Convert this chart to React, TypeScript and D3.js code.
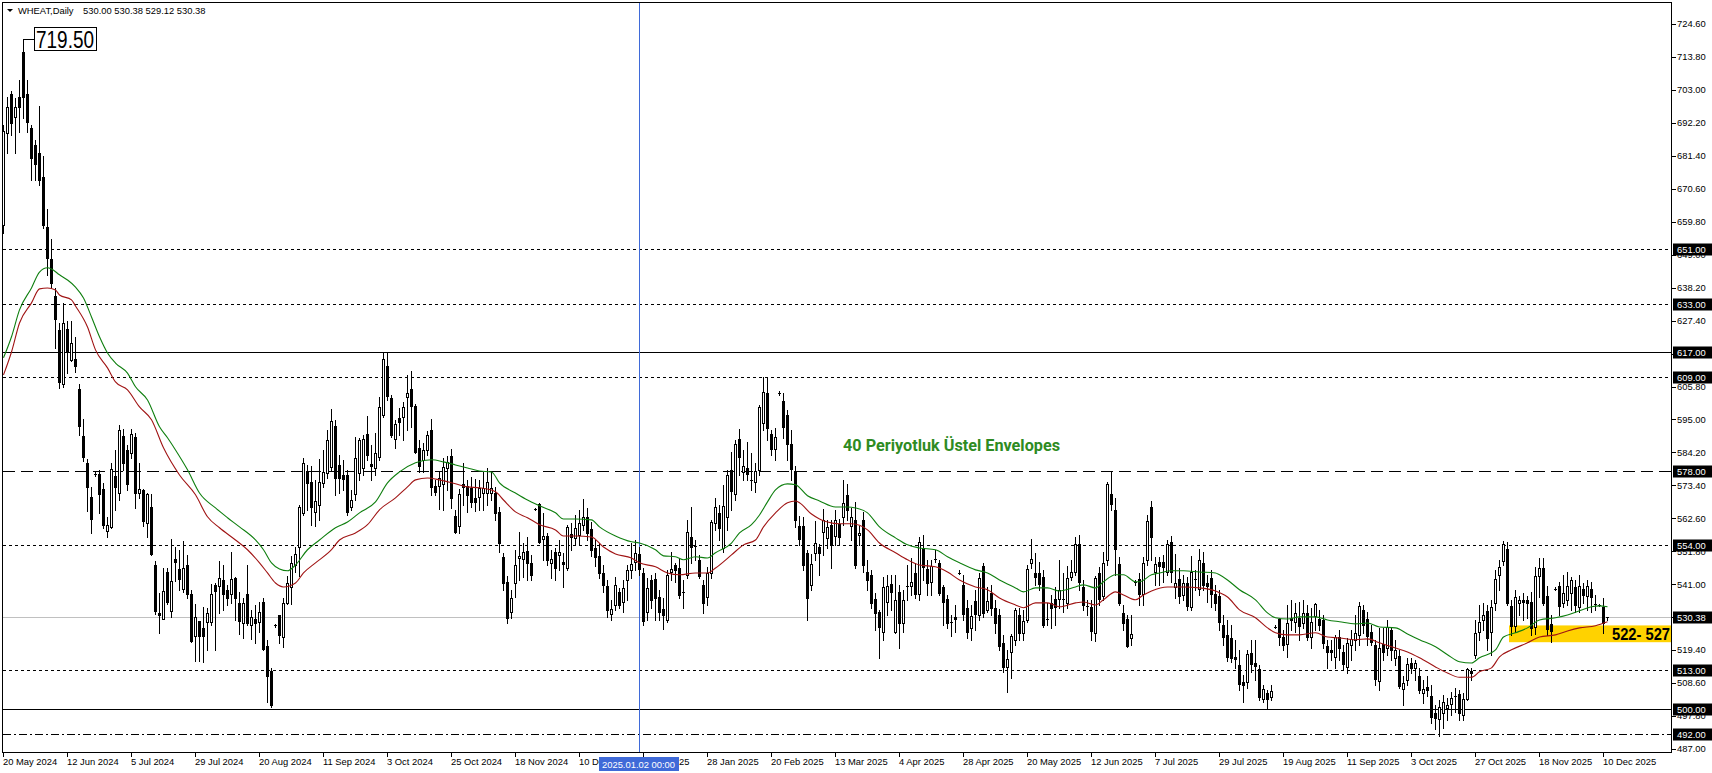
import React, { useEffect } from "react";
import * as d3 from "d3";

const opens = [
658.8,688.9,701.7,694.2,700.7,715.5,701.7,690.5,685.0,682.4,
674.5,658.1,647.6,635.5,624.3,606.7,624.7,614.5,614.9,605.0,
589.6,580.8,569.6,577.2,577.2,572.2,558.5,559.8,576.5,570.9,
589.6,585.0,584.0,589.3,570.9,571.9,561.1,566.3,547.3,531.6,
529.6,545.0,532.3,549.3,546.0,539.5,547.3,537.8,524.1,529.0,
526.7,528.7,528.7,540.8,540.5,542.4,539.2,537.8,543.1,534.9,
528.3,537.8,527.7,529.6,528.7,535.2,520.8,512.6,527.7,531.0,
523.7,534.9,540.1,547.3,553.2,564.4,578.1,574.5,564.7,567.0,
574.2,577.5,579.5,592.9,580.1,576.8,576.8,566.3,570.6,577.5,
579.1,590.3,580.4,579.1,582.7,596.5,612.5,602.1,588.6,595.5,
595.9,602.4,605.0,599.4,585.7,581.8,585.0,591.6,573.2,573.2,
573.9,579.1,583.1,563.4,560.1,573.9,573.2,572.6,569.3,569.6,
570.9,570.9,570.9,570.9,564.7,550.0,541.8,531.9,541.4,549.6,
549.3,551.9,548.0,565.7,567.3,555.9,556.8,548.0,551.6,550.6,
548.3,546.3,557.5,556.2,557.2,560.5,563.1,559.2,552.9,550.3,
544.7,540.5,531.3,534.2,538.5,535.2,542.4,545.7,548.3,551.0,
544.7,532.0,542.4,542.7,536.8,532.9,529.3,545.0,547.3,546.3,
538.5,544.1,556.5,553.5,549.0,540.8,536.8,544.7,561.1,564.4,
552.9,563.1,578.5,570.6,588.6,577.8,579.1,575.0,574.5,578.5,
593.9,603.7,590.3,585.4,603.8,601.1,596.5,587.0,578.1,560.1,
560.1,551.3,540.8,551.3,553.2,558.2,556.2,560.5,556.8,560.8,
563.1,570.3,560.1,562.1,557.2,562.1,545.0,544.1,536.2,532.0,
525.4,535.2,541.1,525.4,538.5,528.3,540.3,540.5,544.7,537.8,
552.9,546.0,541.8,549.0,548.0,540.1,536.2,528.7,530.3,544.7,
540.8,533.3,526.7,535.5,531.0,547.0,532.6,538.2,533.3,531.0,
521.8,513.9,518.8,522.8,531.0,525.1,529.3,548.0,544.7,544.7,
543.4,529.7,534.9,536.2,536.2,536.0,534.9,543.4,545.0,554.2,
540.1,533.9,533.6,525.1,544.7,537.2,549.0,570.6,565.4,547.7,
531.6,529.6,523.4,541.4,542.7,537.8,549.0,566.3,545.0,548.3,
548.3,545.0,554.9,540.1,542.7,537.5,541.4,533.6,542.8,539.5,
548.0,541.4,543.1,537.8,537.2,527.7,524.4,523.4,517.2,514.6,
509.0,509.0,518.5,515.2,513.2,503.4,505.4,504.1,527.0,529.6,
523.7,521.4,530.0,528.7,530.0,528.3,531.6,523.7,530.6,529.6,
529.3,520.8,519.5,517.2,523.7,518.8,513.9,521.1,522.8,524.4,
532.6,529.6,525.4,521.1,509.3,521.4,520.1,526.0,516.9,517.5,
506.7,509.7,515.2,513.6,511.0,505.4,507.4,504.4,498.8,496.9,
498.8,500.5,501.8,504.4,505.1,498.2,503.4,512.6,517.9,525.4,
529.3,532.3,525.4,534.9,544.1,548.7,552.6,533.9,527.4,534.9,
535.9,535.9,535.2,527.0,543.7,546.3,537.2,528.0,539.5,540.5,
534.9,535.9,538.2,540.1,533.6,539.5,537.2,539.5,534.6,534.3,
533.6,530.0
];

const highs = [
691.5,700.7,702.7,700.4,706.3,719.5,706.3,691.5,686.6,697.8,
681.4,664.0,654.2,638.1,626.7,633.2,627.3,627.3,622.1,606.7,
595.2,582.1,572.9,577.8,578.5,574.2,563.1,580.8,585.0,593.2,
591.9,586.7,591.9,590.6,580.8,572.2,570.9,570.6,548.7,538.2,
546.3,546.3,555.9,553.2,552.3,555.2,550.6,539.2,534.6,529.0,
533.6,533.3,541.1,541.4,548.7,547.3,540.8,551.6,543.4,538.5,
536.5,547.3,532.6,534.2,535.2,536.5,522.8,513.6,528.0,531.0,
536.5,543.8,550.3,553.2,567.0,582.4,580.1,579.8,575.2,582.1,
585.0,591.6,598.5,594.9,583.4,581.8,578.5,571.9,589.3,588.9,
589.9,596.2,586.7,590.6,602.4,616.8,616.8,603.1,594.9,598.8,
600.8,609.6,610.9,600.1,588.3,587.3,591.2,595.2,575.2,578.1,
582.4,583.1,585.4,565.4,572.2,580.8,575.2,576.2,575.5,575.2,
577.8,579.1,577.8,572.9,566.3,551.3,543.7,539.2,552.3,558.2,
554.6,556.5,550.6,566.0,567.6,564.4,557.8,552.3,552.9,555.5,
551.3,560.5,561.1,563.7,565.4,569.0,566.0,561.4,555.5,554.5,
547.3,542.4,535.9,543.4,539.8,542.4,547.3,554.6,555.5,553.2,
546.3,543.1,544.1,544.7,539.2,536.5,545.7,551.6,548.0,549.6,
542.4,562.1,566.3,555.5,550.6,542.4,546.7,562.1,569.3,567.0,
573.6,578.5,584.4,588.3,591.9,585.0,587.6,584.0,580.8,599.8,
608.9,608.9,591.6,592.2,604.3,603.7,598.1,591.6,579.8,563.4,
563.1,552.3,551.0,561.7,554.2,565.7,562.1,562.1,565.4,562.4,
575.2,573.9,566.0,568.0,560.1,564.7,549.0,545.7,538.2,532.6,
543.4,544.1,544.1,544.1,540.8,539.2,547.3,549.6,548.0,556.5,
557.2,549.0,549.0,552.3,549.0,540.8,537.5,531.0,534.2,545.7,
544.1,535.9,534.2,539.2,544.7,548.0,540.1,540.8,535.9,532.9,
524.4,519.5,524.7,533.3,533.3,532.6,547.3,555.9,551.3,548.3,
545.7,534.9,537.5,540.1,549.0,544.7,547.0,549.0,556.5,557.2,
542.4,535.9,535.9,543.7,546.7,551.6,574.5,577.8,569.3,550.0,
534.2,531.0,531.0,542.4,544.7,550.0,563.7,568.3,550.0,550.0,
550.6,555.5,556.8,550.9,546.3,544.1,543.4,550.3,545.7,552.6,
551.6,544.1,545.7,540.8,539.2,531.0,529.3,527.7,522.8,519.5,
511.3,519.5,522.8,522.8,514.6,508.0,506.4,508.0,527.7,530.0,
526.0,534.2,535.9,534.9,535.2,535.9,534.2,533.3,534.9,532.6,
531.0,522.8,522.8,524.4,526.0,521.1,523.4,526.0,531.0,535.2,
534.2,531.9,527.7,522.8,526.7,526.7,529.3,526.7,522.8,519.5,
511.0,516.9,516.9,516.2,513.6,509.7,511.0,508.0,501.5,503.1,
504.8,503.8,505.7,507.0,506.4,505.4,513.6,513.6,529.3,534.2,
534.9,534.2,535.9,545.7,549.0,555.2,554.9,535.9,539.2,537.2,
538.2,537.2,538.5,546.7,549.6,549.6,540.5,531.0,540.1,541.8,
544.1,545.0,543.4,542.4,544.1,541.4,542.4,541.8,537.5,534.5,
536.5,530.38
];

const lows = [
656.1,682.4,688.3,682.4,689.3,693.8,689.3,673.5,673.5,671.9,
657.8,642.4,638.1,618.4,605.3,605.7,610.3,614.0,610.6,589.9,
581.4,565.0,557.8,576.5,564.4,559.5,556.5,559.5,565.4,568.6,
578.5,571.9,582.4,566.0,569.3,560.1,556.5,550.6,531.3,525.0,
529.6,534.6,530.3,542.1,539.2,538.5,536.5,522.1,515.9,515.9,
515.6,519.5,527.7,519.5,531.6,532.6,534.2,534.9,529.3,524.7,
523.4,527.7,523.1,521.8,525.4,519.5,502.5,500.8,527.0,521.8,
520.5,534.6,534.6,545.0,543.7,563.7,565.4,560.5,560.1,562.1,
572.9,575.8,578.5,570.3,570.9,571.9,563.7,565.4,568.6,575.2,
576.8,581.8,575.2,576.8,581.8,595.9,601.4,589.3,585.7,589.9,
588.3,591.6,592.6,584.0,577.8,577.8,583.4,570.3,570.3,565.7,
565.4,571.9,566.0,557.8,557.8,567.0,564.7,566.3,565.0,565.4,
565.4,567.0,568.6,562.1,551.6,539.2,528.3,530.0,536.8,542.4,
543.4,542.4,542.4,565.4,554.5,549.0,547.3,543.1,542.4,545.7,
540.1,545.7,552.3,553.9,553.9,558.8,555.5,550.3,547.0,543.1,
538.5,530.3,529.3,532.6,533.3,531.9,535.9,543.1,545.7,544.1,
527.7,529.3,533.3,529.3,529.3,526.4,528.7,542.4,541.8,536.5,
533.3,543.1,548.0,549.0,543.1,531.6,534.2,543.1,558.8,555.5,
551.6,558.8,565.4,568.6,576.8,575.2,575.2,571.9,571.3,576.8,
591.6,588.3,583.4,581.8,603.0,589.0,581.8,575.2,559.8,553.9,
545.7,529.3,539.2,549.0,544.1,550.6,552.9,546.3,553.9,553.9,
560.5,562.1,555.5,546.3,553.9,545.0,539.2,533.3,526.0,516.9,
522.8,531.0,532.6,525.0,520.1,525.4,535.9,537.5,536.5,535.9,
542.4,537.5,537.5,548.3,537.5,527.7,526.7,524.1,525.4,544.4,
529.3,523.4,522.8,526.0,529.3,530.3,531.9,531.0,525.0,519.5,
512.3,505.7,510.3,521.1,522.8,522.8,528.7,546.3,540.8,539.2,
527.0,527.7,526.7,527.7,533.3,531.9,533.3,542.4,544.1,539.2,
532.6,531.0,522.8,522.4,534.2,535.9,547.3,565.4,544.1,534.2,
526.0,520.5,521.1,540.8,534.2,534.2,547.3,549.0,540.8,540.8,
541.8,544.1,541.8,536.5,534.9,535.9,532.6,532.6,539.2,537.5,
539.2,535.2,533.6,532.6,526.0,521.1,515.9,515.6,513.6,506.4,
502.5,507.0,512.3,509.7,503.1,502.5,500.2,503.1,526.7,521.1,
519.5,517.2,526.0,525.4,522.8,526.7,522.8,520.1,526.0,526.0,
520.1,513.6,516.2,513.6,516.2,512.9,511.9,516.2,519.5,521.1,
525.0,521.1,521.1,508.0,506.4,516.2,517.9,516.2,514.6,507.0,
501.5,508.0,511.9,509.7,505.4,502.1,504.4,495.6,493.5,491.2,
494.0,496.5,498.2,499.2,496.5,496.5,503.1,509.7,516.9,522.8,
526.0,519.5,517.9,532.6,539.2,547.3,534.2,524.4,525.4,531.0,
529.3,530.0,524.4,524.7,536.8,534.2,524.4,522.1,539.2,531.0,
533.6,534.2,532.6,531.9,531.9,534.9,532.6,531.9,532.6,533.9,
525.0,529.12
];

const closes = [
689.6,697.4,692.2,697.4,697.4,700.7,692.5,680.7,678.8,673.5,
658.8,647.9,639.7,628.0,607.3,626.7,617.1,620.1,612.6,592.9,
582.7,572.9,562.4,577.0,570.6,560.5,560.5,578.8,572.9,591.6,
580.8,573.9,590.3,570.9,572.2,561.8,570.6,550.9,532.3,531.0,
538.8,535.2,542.1,548.3,542.7,546.3,537.8,522.4,530.3,524.1,
524.1,531.6,537.8,538.8,543.1,537.8,536.5,542.7,536.5,529.0,
534.9,528.3,530.3,528.3,531.9,519.8,511.0,501.5,527.7,524.4,
534.9,541.4,548.0,550.9,566.3,580.8,574.2,566.3,568.3,574.5,
577.8,588.3,594.5,575.8,575.8,575.5,564.7,568.6,582.4,588.3,
588.6,583.4,579.8,584.0,599.1,614.9,602.7,589.9,593.6,594.2,
599.1,603.7,599.4,584.4,579.8,585.0,589.9,572.9,571.3,575.8,
579.5,581.1,569.3,558.2,570.6,572.9,570.3,568.0,568.0,572.6,
572.6,574.5,572.6,564.4,554.5,541.4,530.0,536.5,547.3,550.3,
551.6,548.0,544.1,565.7,554.9,556.8,549.0,549.3,546.3,551.6,
547.7,559.8,556.5,559.5,561.1,563.1,557.8,552.3,550.0,544.7,
540.8,532.6,532.9,540.8,534.2,539.8,545.7,547.7,551.3,546.0,
529.0,539.8,535.9,536.5,531.9,531.0,544.1,546.0,545.7,537.5,
538.2,558.2,553.2,553.2,543.7,534.9,544.7,561.4,566.3,559.5,
566.7,576.8,571.6,587.0,582.7,579.8,577.2,574.8,578.1,599.1,
604.0,592.3,585.4,589.3,603.7,592.6,587.0,578.8,562.1,555.9,
547.3,536.5,547.7,554.5,551.3,562.1,559.8,553.9,562.1,556.5,
567.6,565.4,563.1,547.3,557.8,547.3,542.4,534.9,531.6,527.0,
540.1,540.5,538.5,535.9,528.3,535.9,540.1,541.8,537.8,554.9,
546.7,541.4,547.0,549.2,538.2,535.2,528.3,528.5,529.6,544.5,
531.3,525.4,530.6,531.3,543.1,531.6,535.5,533.3,528.3,520.8,
513.9,516.5,524.1,532.6,525.1,529.0,546.0,549.3,543.4,541.1,
527.7,529.6,533.3,533.6,539.2,536.2,543.1,545.0,554.2,541.8,
534.2,533.9,525.7,543.1,536.2,548.0,573.9,567.3,552.6,534.9,
528.3,520.8,524.7,541.6,537.8,548.0,561.7,556.5,547.7,547.0,
546.7,554.2,545.0,541.4,537.2,541.4,533.9,545.0,542.7,549.0,
540.8,540.5,537.8,534.9,528.7,523.7,517.2,516.9,516.5,508.4,
508.0,518.2,514.9,514.3,504.1,506.7,503.4,506.1,527.0,523.7,
521.1,528.3,529.3,531.6,527.4,531.6,523.7,528.7,534.6,527.7,
521.8,518.8,518.8,523.7,520.1,514.9,521.8,523.1,525.1,533.9,
527.7,524.1,522.1,510.0,520.1,518.8,527.0,519.5,519.5,507.7,
508.7,514.9,513.6,515.2,506.4,506.7,506.4,497.5,497.2,500.8,
502.4,501.5,503.8,504.1,498.8,503.4,513.2,512.0,525.1,528.7,
531.0,523.4,533.6,542.7,546.7,554.2,534.9,527.4,536.8,535.9,
535.2,534.9,526.7,543.7,546.3,534.9,526.4,525.7,539.5,533.9,
538.2,540.5,542.4,534.2,540.5,537.5,540.5,536.8,534.5,534.2,
528.3,530.38
];

// 40-period exponential envelopes at sample bars
const upperBars = [0,2,4,7,9,11,12,14,16,18,20,22,24,26,28,31,33,36,39,41,43,46,49,53,56,59,63,65,67,69,71,73,76,79,83,86,89,93,96,99,103,107,110,113,116,119,122,124,128,131,134,138,140,143,147,149,153,157,159,163,165,168,170,173,176,178,182,184,187,189,191,193,196,198,201,204,208,211,213,216,219,223,226,229,233,236,239,243,246,249,253,255,258,261,264,268,270,273,275,278,280,283,284,287,289,292,295,299,303,304,306,309,313,316,318,321,324,328,331,334,338,341,344,348,351,354,358,361,364,367,369,373,375,378,381,384,388,391,394,397,399,401];
const upperValues = [615.2,622.1,630.9,638.1,643.3,644.7,644.3,642.4,640.7,638.4,634.8,628.6,622.1,616.8,613.5,610.2,605.7,601.4,592.6,589.0,585.0,578.5,570.9,566.0,562.8,559.8,555.5,552.3,548.0,546.0,545.4,547.3,552.3,555.5,559.5,561.4,564.4,568.0,574.2,577.8,580.8,581.8,581.1,580.1,579.1,578.1,577.8,574.2,570.9,568.6,566.7,564.4,562.4,562.4,562.1,559.8,556.8,554.9,554.5,552.3,550.3,550.0,549.0,550.0,549.6,551.3,554.5,557.8,560.5,563.7,568.0,571.9,573.9,573.6,570.0,568.3,566.3,566.3,566.0,564.4,559.8,556.2,553.9,552.9,552.3,550.0,548.0,545.7,544.7,542.4,539.8,538.5,539.8,539.8,538.8,540.1,540.8,539.8,541.8,544.1,544.1,541.8,541.8,544.1,544.7,545.4,545.4,545.0,544.7,544.1,542.4,539.2,535.9,531.6,530.0,529.6,530.3,530.3,529.3,528.7,528.0,528.3,527.0,526.7,524.7,522.8,520.5,517.9,515.6,515.2,516.9,519.5,523.7,525.1,526.7,529.3,530.0,530.9,532.3,533.6,533.9,533.6];

const lowerBars = [0,2,4,7,9,11,13,14,17,18,21,23,26,28,31,34,37,40,44,48,51,54,58,61,64,66,68,70,73,75,78,82,84,88,91,94,98,101,103,106,109,113,116,119,123,125,128,131,134,138,140,143,147,150,153,157,159,163,166,169,173,176,178,182,185,188,190,193,196,198,199,202,204,206,209,212,216,219,223,226,229,233,236,239,243,246,249,253,255,258,261,264,268,270,273,275,278,280,283,285,287,291,295,299,303,304,306,309,313,316,318,321,324,328,331,334,338,341,344,348,351,354,358,361,364,367,369,372,374,377,381,384,388,391,394,398,401];
const lowerValues = [609.6,617.1,626.6,633.2,637.8,638.1,637.4,635.8,634.2,632.2,625.3,617.8,611.9,607.3,604.7,599.1,594.9,585.7,576.8,570.3,563.1,559.5,555.5,552.3,548.0,544.7,541.4,540.1,541.4,544.7,548.0,552.3,555.5,557.8,560.5,565.4,569.3,572.9,575.2,575.8,575.2,573.9,572.9,572.6,571.3,568.6,564.7,562.8,560.5,558.8,556.8,556.8,556.5,553.2,550.9,549.6,548.0,546.7,544.7,544.1,544.7,544.7,546.3,550.6,553.9,555.5,559.8,564.4,567.7,568.3,567.7,564.0,562.4,561.4,560.8,560.8,558.8,554.5,551.3,549.0,547.3,546.7,545.0,542.4,540.1,539.2,536.5,534.2,533.3,534.9,534.9,533.6,534.9,535.2,534.2,535.9,538.5,537.5,535.9,537.5,538.8,540.1,540.1,539.8,538.8,538.2,536.8,532.6,530.0,526.7,525.1,524.4,524.4,525.1,523.7,523.4,522.8,523.1,521.8,520.1,518.8,516.9,513.9,511.9,510.5,510.5,512.3,513.6,517.2,519.5,521.8,523.7,524.4,525.7,526.7,527.4,528.7];

const priceTicks = [724.6,713.8,703.0,692.2,681.4,670.6,659.8,649.0,638.2,627.4,616.6,605.8,595.0,584.2,573.4,562.6,551.8,541.0,530.2,519.4,508.6,497.8,487.0];

const dateTickBars = [0,16,32,48,64,80,96,112,128,144,160,176,192,208,224,240,256,272,288,304,320,336,352,368,384,400];
const dateTickLabels = ["20 May 2024","12 Jun 2024","5 Jul 2024","29 Jul 2024","20 Aug 2024","11 Sep 2024","3 Oct 2024","25 Oct 2024","18 Nov 2024","10 Dec 2024","3 Jan 2025","28 Jan 2025","20 Feb 2025","13 Mar 2025","4 Apr 2025","28 Apr 2025","20 May 2025","12 Jun 2025","7 Jul 2025","29 Jul 2025","19 Aug 2025","11 Sep 2025","3 Oct 2025","27 Oct 2025","18 Nov 2025","10 Dec 2025"];

const levelPrices = [651, 633, 617, 609, 578, 554, 513, 500, 492];
const levelStyles = ["dot", "dot", "solid", "dot", "dash", "dot", "dot", "solid", "dashdot"];
const bidPrice = 530.38;
const zonePrices = [522, 527.5];
const zoneStartBar = 377;
const zoneLabel = "522- 527";
const crossBar = 159;
const crossLabel = "2025.01.02 00:00";
const highBar = 5;
const highLabel = "719.50";
const noteText = "40 Periyotluk Üstel Envelopes";
const noteBar = 210;
const notePrice = 584.8;
const headerSymbol = "WHEAT,Daily";
const headerValues = "530.00 530.38 529.12 530.38";

const dashFor: Record<string, string | undefined> = {
  dot: "3,3",
  dash: "12,6",
  dashdot: "8,3,2,3",
  solid: undefined,
};

const FONT = "'Liberation Sans', Arial, sans-serif";

export default function App() {
  useEffect(() => {
    document.body.style.margin = "0";
  }, []);

  const L = 2.5, T = 2.5, R = 1671.5, B = 752.5;
  const x = d3.scaleLinear().domain([0, 401]).range([3, 1607]);
  const y = d3.scaleLinear().domain([487, 724.6]).range([749, 24]);
  const ry = (p: number) => Math.round(y(p));

  const upperLine = d3
    .line<number>()
    .x((_, k) => x(upperBars[k]) + 0.5)
    .y((d) => y(d))
    .curve(d3.curveMonotoneX);
  const lowerLine = d3
    .line<number>()
    .x((_, k) => x(lowerBars[k]) + 0.5)
    .y((d) => y(d))
    .curve(d3.curveMonotoneX);

  const candles = opens.map((o, i) => {
    const h = highs[i], l = lows[i], c = closes[i];
    const xs = Math.round(x(i));
    const top = ry(Math.max(o, c));
    const bot = ry(Math.min(o, c));
    const wick = (
      <line key={"w" + i} x1={xs + 0.5} x2={xs + 0.5} y1={ry(h)} y2={ry(l) + 1} stroke="#000" strokeWidth={1} />
    );
    let body;
    if (bot - top <= 1) {
      body = <rect key={"b" + i} x={xs - 1} y={top} width={3} height={1} fill="#000" />;
    } else if (c >= o) {
      body = (
        <rect key={"b" + i} x={xs - 0.5} y={top + 0.5} width={2} height={bot - top} fill="#fff" stroke="#000" strokeWidth={1} />
      );
    } else {
      body = <rect key={"b" + i} x={xs - 1} y={top} width={3} height={bot - top + 1} fill="#000" />;
    }
    return (
      <g key={"c" + i}>
        {wick}
        {body}
      </g>
    );
  });

  const crossX = Math.round(x(crossBar)) + 0.5;
  const highX = Math.round(x(highBar)) + 0.5;
  const highY = ry(highs[highBar]) + 0.5;

  return (
    <svg
      width={1712}
      height={773}
      style={{ position: "absolute", left: 0, top: 0, display: "block" }}
      fontFamily={FONT}
    >
      <rect x={0} y={0} width={1712} height={773} fill="#fff" />
      <defs>
        <clipPath id="plotClip">
          <rect x={L} y={T} width={R - L} height={B - T} />
        </clipPath>
      </defs>

      <g clipPath="url(#plotClip)">
        {/* support zone */}
        <rect
          x={Math.round(x(zoneStartBar)) - 2}
          y={y(zonePrices[1])}
          width={R - (Math.round(x(zoneStartBar)) - 2)}
          height={y(zonePrices[0]) - y(zonePrices[1])}
          fill="#FFD200"
        />
        {/* horizontal levels */}
        {levelPrices.map((p, k) => (
          <line
            key={"lv" + k}
            x1={L}
            x2={R}
            y1={ry(p) + 0.5}
            y2={ry(p) + 0.5}
            stroke="#000"
            strokeWidth={1}
            strokeDasharray={dashFor[levelStyles[k]]}
            shapeRendering="crispEdges"
          />
        ))}
        <line x1={L} x2={R} y1={ry(bidPrice) + 0.5} y2={ry(bidPrice) + 0.5} stroke="#C0C0C0" strokeWidth={1} shapeRendering="crispEdges" />

        {/* crosshair */}
        <line x1={crossX} x2={crossX} y1={T} y2={B} stroke="#3F6AD8" strokeWidth={1} shapeRendering="crispEdges" />

        {/* candles */}
        <g shapeRendering="crispEdges">{candles}</g>

        {/* envelopes */}
        <path d={upperLine(upperValues) || ""} fill="none" stroke="#0F7F0F" strokeWidth={1.1} />
        <path d={lowerLine(lowerValues) || ""} fill="none" stroke="#A01414" strokeWidth={1.1} />
      </g>

      {/* frame */}
      <rect x={L} y={T} width={R - L} height={B - T} fill="none" stroke="#000" strokeWidth={1} shapeRendering="crispEdges" />

      {/* price axis */}
      {priceTicks.map((p, k) => (
        <g key={"pt" + k}>
          <line x1={R} x2={R + 4} y1={ry(p) + 0.5} y2={ry(p) + 0.5} stroke="#000" shapeRendering="crispEdges" />
          <text x={1677} y={y(p)} dy="0.35em" fontSize={9.4} fill="#000">
            {p.toFixed(2)}
          </text>
        </g>
      ))}
      {[...levelPrices, bidPrice].map((p, k) => (
        <g key={"pl" + k}>
          <rect x={1673} y={ry(p) - 5.5} width={39} height={12} fill="#000" />
          <text x={1677} y={ry(p) + 0.5} dy="0.35em" fontSize={9.4} fill="#fff">
            {p.toFixed(2)}
          </text>
        </g>
      ))}

      {/* time axis */}
      {dateTickBars.map((b, k) => {
        const tx = Math.round(x(b));
        return (
          <g key={"dt" + k}>
            <line x1={tx + 0.5} x2={tx + 0.5} y1={B} y2={B + 4} stroke="#000" shapeRendering="crispEdges" />
            <text x={tx} y={765} fontSize={9.4} fill="#000">
              {dateTickLabels[k]}
            </text>
          </g>
        );
      })}
      <rect x={599} y={757} width={80} height={14} fill="#3F6AD8" />
      <text x={602} y={767.5} fontSize={9.4} fill="#fff">
        {crossLabel}
      </text>

      {/* header */}
      <polygon points="7,9 13,9 10,12" fill="#000" />
      <text x={18} y={13.5} fontSize={9.4} fill="#000">
        {headerSymbol}
      </text>
      <text x={83} y={13.5} fontSize={9.4} fill="#000">
        {headerValues}
      </text>

      {/* high label */}
      <polyline points={`${highX},${highY} ${highX},${highY - 1} 34,${highY - 1}`} fill="none" stroke="#000" strokeWidth={1} shapeRendering="crispEdges" />
      <rect x={34.5} y={27.5} width={62} height={23} fill="#fff" stroke="#000" strokeWidth={1} shapeRendering="crispEdges" />
      <text x={36} y={47.5} fontSize={23} textLength={58} lengthAdjust="spacingAndGlyphs" fill="#000">
        {highLabel}
      </text>

      {/* note */}
      <text
        x={x(noteBar)}
        y={y(notePrice)}
        fontSize={16.5}
        fontWeight="bold"
        fontFamily="Roboto, 'Liberation Sans', sans-serif"
        textLength={217}
        lengthAdjust="spacingAndGlyphs"
        fill="#2E8B22"
      >
        {noteText}
      </text>

      {/* zone label */}
      <text
        x={1612}
        y={639.5}
        fontSize={16.5}
        fontWeight="bold"
        textLength={58}
        lengthAdjust="spacingAndGlyphs"
        fill="#000"
      >
        {zoneLabel}
      </text>
    </svg>
  );
}
